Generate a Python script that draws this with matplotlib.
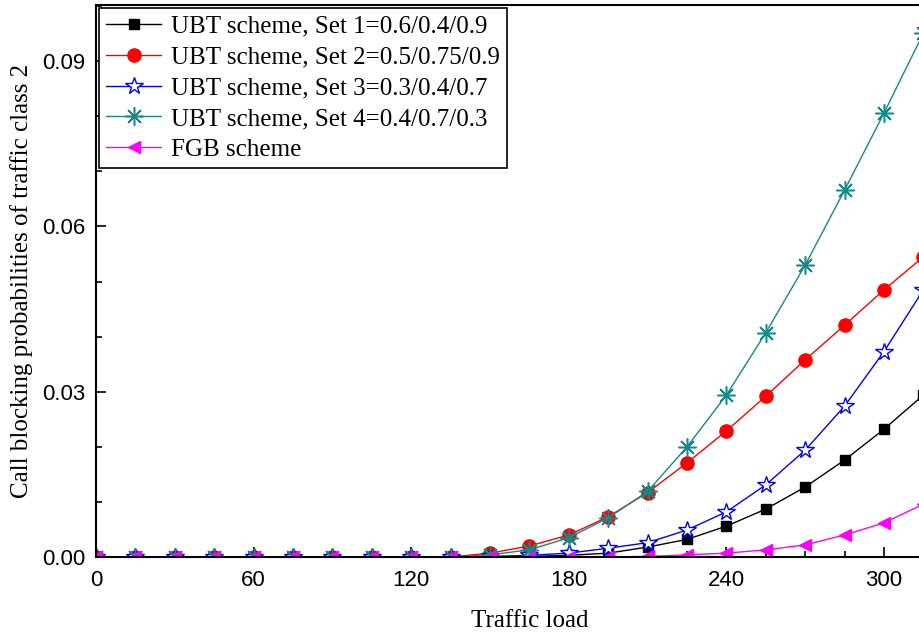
import numpy as np
import matplotlib
matplotlib.use("Agg")
import matplotlib.pyplot as plt
from matplotlib.ticker import MultipleLocator, FormatStrFormatter

# traffic load points
load = list(range(0, 316, 15))

set1 = [0, 0, 0, 0, 0, 0, 0, 0, 0, 0, 0.0, 0.0001, 0.0003, 0.0007, 0.0018,
        0.0032, 0.0056, 0.0087, 0.0127, 0.0176, 0.0232, 0.0294]
set2 = [0, 0, 0, 0, 0, 0, 0, 0, 0, 0, 0.0007, 0.0020, 0.0040, 0.0073, 0.0117,
        0.0171, 0.0229, 0.0292, 0.0358, 0.0421, 0.0485, 0.0545]
set3 = [0, 0, 0, 0, 0, 0, 0, 0, 0, 0, 0.0001, 0.0003, 0.0007, 0.0016, 0.0026,
        0.0049, 0.0082, 0.0131, 0.0194, 0.0274, 0.0373, 0.0485]
set4 = [0, 0, 0, 0, 0, 0, 0, 0, 0, 0, 0.0004, 0.0013, 0.0035, 0.0071, 0.0119,
        0.0200, 0.0294, 0.0407, 0.0530, 0.0666, 0.0806, 0.0951]
fgb = [0, 0, 0, 0, 0, 0, 0, 0, 0, 0, 0, 0, 0, 0.0, 0.0001,
       0.0004, 0.0007, 0.0013, 0.0022, 0.0040, 0.0062, 0.0096]

labels = ["UBT scheme, Set 1=0.6/0.4/0.9",
          "UBT scheme, Set 2=0.5/0.75/0.9",
          "UBT scheme, Set 3=0.3/0.4/0.7",
          "UBT scheme, Set 4=0.4/0.7/0.3",
          "FGB scheme"]

serif = "Liberation Serif"
sans = "Liberation Sans"

fig = plt.figure(figsize=(9.2, 6.37), dpi=100)
# axes run past the right edge, the original picture is cropped there
ax = fig.add_axes([96 / 920, 80 / 637, 866.8 / 920, 552 / 637])

ax.plot(load, set1, color="black", lw=1, marker="s", ms=7, label=labels[0])
ax.plot(load, set2, color="red", lw=1, marker="o", ms=9.5, label=labels[1])
ax.plot(load, set3, color="blue", lw=1, marker="*", ms=13, mfc="white",
        mec="blue", mew=1, label=labels[2])
ax.plot(load, set4, color="#138a8a", lw=1, marker=(8, 2, 0), ms=13, mew=1.1,
        label=labels[3])
ax.plot(load, fgb, color="magenta", lw=1, marker="<", ms=9, label=labels[4])

ax.set_xlim(0, 330)
ax.set_ylim(0, 0.1002)
ax.xaxis.set_major_locator(MultipleLocator(60))
ax.xaxis.set_minor_locator(MultipleLocator(15))
ax.yaxis.set_major_locator(MultipleLocator(0.03))
ax.yaxis.set_minor_locator(MultipleLocator(0.01))
ax.yaxis.set_major_formatter(FormatStrFormatter("%.2f"))
ax.tick_params(which="both", direction="in", top=False, right=False,
               width=1.2, labelsize=16)
ax.tick_params(axis="x", pad=9)
ax.tick_params(axis="y", pad=8)
ax.tick_params(which="major", length=7)
ax.tick_params(which="minor", length=4)
for lab in ax.get_xticklabels() + ax.get_yticklabels():
    lab.set_fontfamily(sans)
for s in ax.spines.values():
    s.set_linewidth(1.5)

ax.set_xlabel("Traffic load", fontsize=18, family=serif, labelpad=14)
ax.set_ylabel("Call blocking probabilities of traffic class 2", fontsize=18,
              family=serif, labelpad=6)

leg = ax.legend(loc="upper left", bbox_to_anchor=(0.003, 0.995),
                prop={"family": serif, "size": 18}, frameon=True,
                fancybox=False, edgecolor="black", framealpha=1,
                handlelength=2.2, handletextpad=0.4, borderpad=0.3,
                labelspacing=0.33, borderaxespad=0)
leg.get_frame().set_linewidth(1.2)

fig.savefig("out.png", dpi=100)
